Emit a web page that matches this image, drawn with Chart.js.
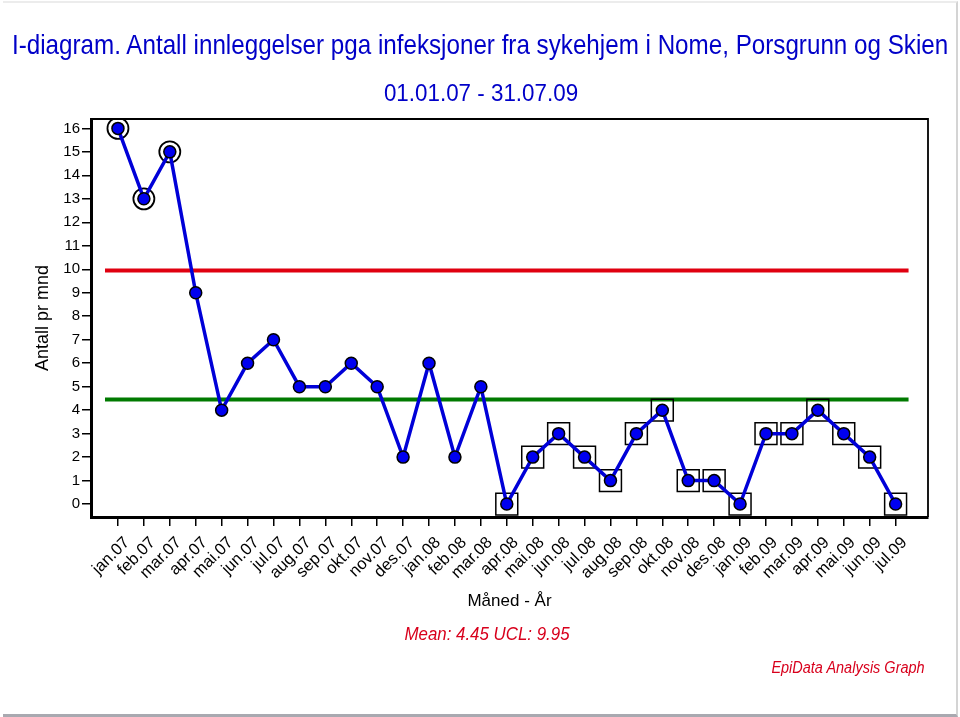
<!DOCTYPE html>
<html>
<head>
<meta charset="utf-8">
<title>I-diagram</title>
<script src="https://cdn.jsdelivr.net/npm/chart.js@4.4.0/dist/chart.umd.min.js"></script>
<style>
  html, body { margin: 0; padding: 0; background: #fff; }
  #wrap { position: relative; width: 960px; height: 717px; overflow: hidden; background: #fff; }
  #edge { position: absolute; left: 3px; top: 1px; width: 953px; height: 711px;
          border-top: 2px solid #ececec; border-right: 2px solid #d4d4d4; border-bottom: 3px solid #a9a9b0; }
  #chart { position: absolute; left: 0; top: 0; }
  .txt { position: absolute; white-space: nowrap; line-height: 1;
         font-family: "Liberation Sans", Arial, sans-serif; }
  #title { left: 12px; top: 45px; font-size: 28px; color: #0000c8; transform-origin: left center; }
  #subtitle { left: 481px; top: 93px; font-size: 24px; color: #0000c8; }
  #stats { left: 487px; top: 634px; font-size: 18px; color: #d8001c; font-style: italic; }
  #brand { left: 848px; top: 668px; font-size: 16px; color: #d8001c; font-style: italic; }
</style>
</head>
<body>
<div id="wrap">
  <div id="edge"></div>
  <canvas id="chart" width="960" height="717"></canvas>
  <div class="txt" id="title" data-w="936">I-diagram. Antall innleggelser pga infeksjoner fra sykehjem i Nome, Porsgrunn og Skien</div>
  <div class="txt" id="subtitle" data-w="194" data-c="1">01.01.07 - 31.07.09</div>
  <div class="txt" id="stats" data-w="165" data-c="1">Mean: 4.45 UCL: 9.95</div>
  <div class="txt" id="brand" data-w="153" data-c="1">EpiData Analysis Graph</div>
</div>
<script>
const months = [
  "jan.07", "feb.07", "mar.07", "apr.07", "mai.07", "jun.07", "jul.07", "aug.07",
  "sep.07", "okt.07", "nov.07", "des.07", "jan.08", "feb.08", "mar.08", "apr.08",
  "mai.08", "jun.08", "jul.08", "aug.08", "sep.08", "okt.08", "nov.08", "des.08",
  "jan.09", "feb.09", "mar.09", "apr.09", "mai.09", "jun.09", "jul.09"
];
const counts = [16, 13, 15, 9, 4, 6, 7, 5, 5, 6, 5, 2, 6, 2, 5, 0, 2, 3, 2, 1, 3, 4, 1, 1, 0, 3, 3, 4, 3, 2, 0];
const yTicks = [0, 1, 2, 3, 4, 5, 6, 7, 8, 9, 10, 11, 12, 13, 14, 15, 16];
const meanValue = 4.45;
const uclValue = 9.95;
// points over UCL (ringed) and the long run below the mean (boxed)
const circled = [0, 1, 2];
const boxed = [15, 16, 17, 18, 19, 20, 21, 22, 23, 24, 25, 26, 27, 28, 29, 30];

const FONT = "'Liberation Sans', Arial, sans-serif";
const pts = idx => idx.map(i => ({ x: i, y: counts[i] }));
const hline = v => [{ x: -0.5, y: v }, { x: months.length - 0.5, y: v }];

// squeeze the html texts to the narrow widths of the original
document.querySelectorAll(".txt").forEach(el => {
  const s = el.dataset.w / el.offsetWidth;
  el.style.transform = (el.dataset.c ? "translate(-50%, -50%) " : "translateY(-50%) ") + "scaleX(" + s + ")";
});

// top and right edge of the plot frame
const frame = {
  id: "frame",
  afterDraw(chart) {
    const { ctx, chartArea: a } = chart;
    ctx.save();
    ctx.strokeStyle = "#000";
    ctx.lineWidth = 1.8;
    ctx.beginPath();
    ctx.moveTo(a.left, a.top);
    ctx.lineTo(a.right, a.top);
    ctx.lineTo(a.right, a.bottom);
    ctx.stroke();
    ctx.restore();
  }
};

new Chart(document.getElementById("chart"), {
  type: "line",
  data: {
    datasets: [
      {
        data: pts(months.map((_, i) => i)),
        borderColor: "#0000d8",
        borderWidth: 3.5,
        pointRadius: 6,
        pointBackgroundColor: "#0000f0",
        pointBorderColor: "#000",
        pointBorderWidth: 1.5,
        order: 0,
      },
      {
        data: pts(circled),
        showLine: false,
        pointRadius: 10.5,
        pointBackgroundColor: "rgba(0,0,0,0)",
        pointBorderColor: "#000",
        pointBorderWidth: 1.8,
        order: 1,
      },
      {
        data: pts(boxed),
        showLine: false,
        pointStyle: "rect",
        pointRadius: 15.5,
        pointBackgroundColor: "rgba(0,0,0,0)",
        pointBorderColor: "#000",
        pointBorderWidth: 1.5,
        order: 1,
      },
      {
        data: hline(uclValue),
        borderColor: "#e00010",
        borderWidth: 4,
        pointRadius: 0,
        order: 2,
      },
      {
        data: hline(meanValue),
        borderColor: "#007a00",
        borderWidth: 4,
        pointRadius: 0,
        order: 2,
      },
    ],
  },
  options: {
    responsive: false,
    animation: false,
    events: [],
    layout: { padding: { left: 0, top: 119, right: 32, bottom: 105 } },
    plugins: {
      legend: { display: false },
      tooltip: { enabled: false },
    },
    scales: {
      x: {
        type: "linear",
        min: -1.04,
        max: 31.25,
        afterBuildTicks: s => { s.ticks = months.map((_, i) => ({ value: i })); },
        afterFit: s => { s.height = 95; },
        ticks: {
          autoSkip: false,
          maxRotation: 45,
          minRotation: 45,
          padding: 7,
          labelOffset: 9,
          color: "#000",
          font: { family: FONT, size: 16.5 },
          callback: v => months[v],
        },
        grid: { drawOnChartArea: false, drawTicks: true, tickLength: 9, color: "#000", lineWidth: 1.5 },
        border: { color: "#000", width: 3 },
        title: {
          display: true,
          text: "Måned - År",
          color: "#000",
          font: { family: FONT, size: 17 },
          padding: { top: 0, bottom: 0 },
        },
      },
      y: {
        type: "linear",
        min: -0.55,
        max: 16.4,
        afterBuildTicks: s => { s.ticks = yTicks.map(v => ({ value: v })); },
        afterFit: s => { s.width = 91; },
        ticks: {
          padding: 2,
          color: "#000",
          font: { family: FONT, size: 15 },
        },
        grid: { drawOnChartArea: false, drawTicks: true, tickLength: 9, color: "#000", lineWidth: 1.5 },
        border: { color: "#000", width: 3 },
        title: {
          display: true,
          text: "Antall pr mnd",
          color: "#000",
          font: { family: FONT, size: 18 },
          padding: { top: 32, bottom: 0 },
        },
      },
    },
  },
  plugins: [frame],
});
</script>
</body>
</html>
